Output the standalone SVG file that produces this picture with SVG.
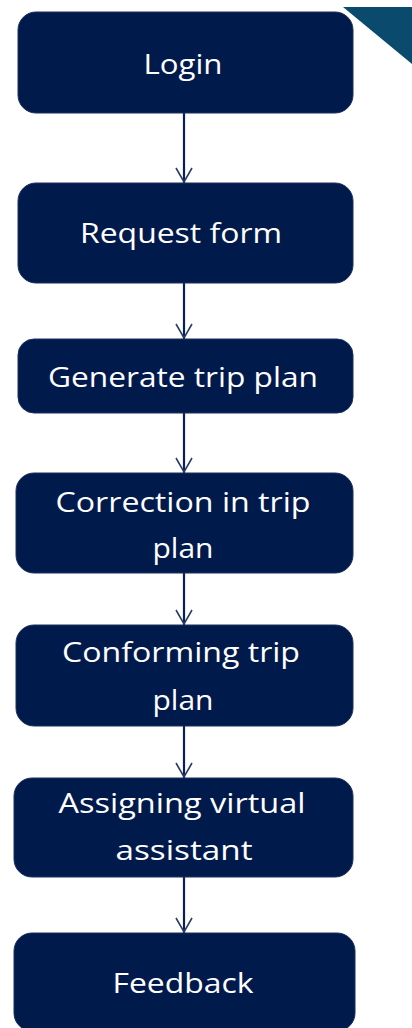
<svg xmlns="http://www.w3.org/2000/svg" width="412" height="1028" viewBox="0 0 412 1028">
<defs>
<style>
.node rect { fill: #001a4c; stroke: #1a2e5c; stroke-width: 1; }
.node text { fill: #ffffff; font-family: "Open Sans", "Liberation Sans", sans-serif; font-size: 28px; text-anchor: middle; }
.edge line { stroke: #0a1f52; stroke-width: 2.2; }
.edge path { fill: none; stroke: #2a3d66; stroke-width: 1.6; }
</style>
</defs>
<rect x="0" y="0" width="412" height="1028" fill="#ffffff"/>
<polygon points="343,7 412,7 412,64" fill="#0a4a6c"/>
<g id="connectors">
<g class="edge"><line x1="184" y1="113" x2="184" y2="183"/><path d="M176,168 L184,182 L192,168"/></g>
<g class="edge"><line x1="184" y1="283" x2="184" y2="339"/><path d="M176,324 L184,338 L192,324"/></g>
<g class="edge"><line x1="184" y1="413" x2="184" y2="473"/><path d="M176,458 L184,472 L192,458"/></g>
<g class="edge"><line x1="184" y1="573" x2="184" y2="625"/><path d="M176,610 L184,624 L192,610"/></g>
<g class="edge"><line x1="184" y1="726" x2="184" y2="778"/><path d="M176,763 L184,777 L192,763"/></g>
<g class="edge"><line x1="184" y1="877" x2="184" y2="933"/><path d="M176,918 L184,932 L192,918"/></g>
</g>
<g id="login" class="node"><rect x="18" y="12" width="335" height="101" rx="18"/><text x="183" y="74" textLength="79" lengthAdjust="spacingAndGlyphs">Login</text></g>
<g id="request-form" class="node"><rect x="18" y="183" width="335" height="100" rx="18"/><text x="181" y="243" textLength="202" lengthAdjust="spacingAndGlyphs">Request form</text></g>
<g id="generate-trip-plan" class="node"><rect x="18" y="339" width="335" height="74" rx="16"/><text x="183" y="387" textLength="270" lengthAdjust="spacingAndGlyphs">Generate trip plan</text></g>
<g id="correction" class="node"><rect x="16" y="473" width="337" height="100" rx="18"/><text x="183" y="512" textLength="255" lengthAdjust="spacingAndGlyphs">Correction in trip</text><text x="183" y="558" textLength="61" lengthAdjust="spacingAndGlyphs">plan</text></g>
<g id="conforming" class="node"><rect x="16" y="625" width="337" height="101" rx="18"/><text x="181" y="662" textLength="238" lengthAdjust="spacingAndGlyphs">Conforming trip</text><text x="183" y="710" textLength="61" lengthAdjust="spacingAndGlyphs">plan</text></g>
<g id="assigning" class="node"><rect x="14" y="778" width="339" height="99" rx="18"/><text x="182" y="813" textLength="247" lengthAdjust="spacingAndGlyphs">Assigning virtual</text><text x="184" y="860" textLength="137" lengthAdjust="spacingAndGlyphs">assistant</text></g>
<g id="feedback" class="node"><rect x="14" y="933" width="341" height="98" rx="18"/><text x="183" y="993" textLength="141" lengthAdjust="spacingAndGlyphs">Feedback</text></g>
</svg>
